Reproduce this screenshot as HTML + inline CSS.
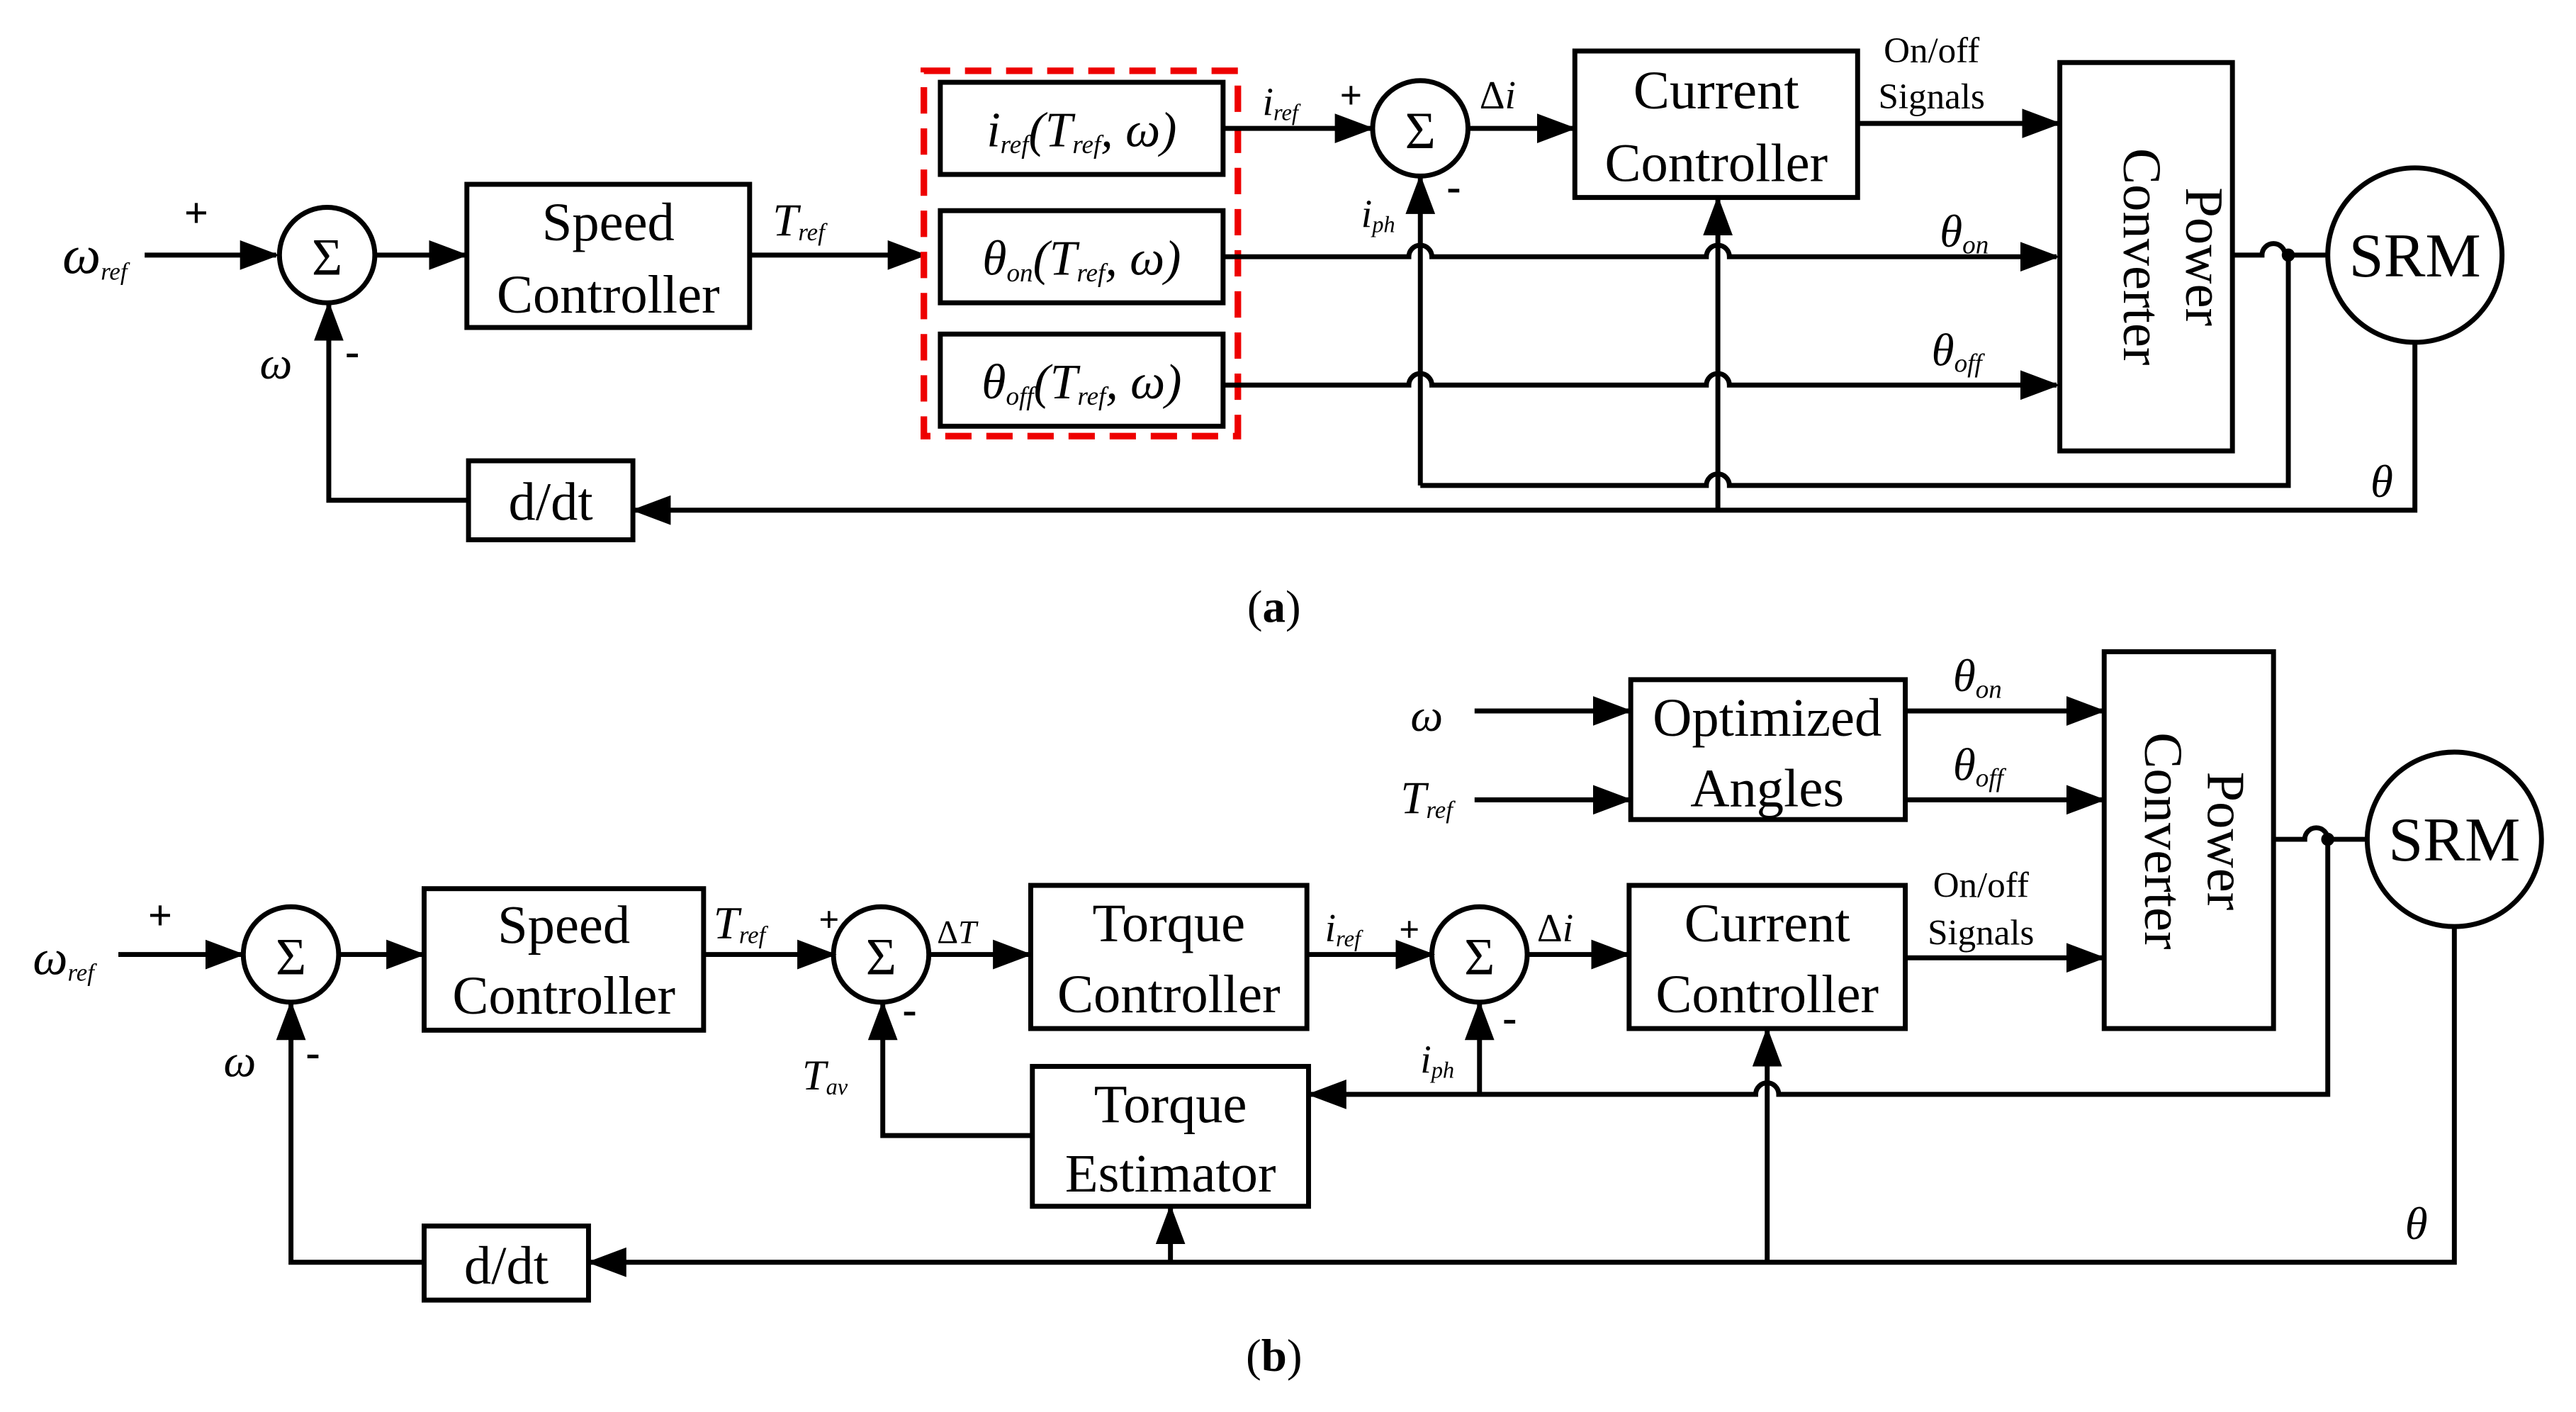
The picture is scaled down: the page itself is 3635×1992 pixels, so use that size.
<!DOCTYPE html>
<html><head><meta charset="utf-8"><style>
html,body{margin:0;padding:0;background:#fff}
svg{display:block}
text{font-family:"Liberation Serif",serif;fill:#000}
.b{font-size:33px}
.i{font-style:italic}
</style></head><body>
<svg width="3635" height="1992" viewBox="0 0 1567 858" preserveAspectRatio="none" xmlns="http://www.w3.org/2000/svg">
<defs>
<marker id="a" markerUnits="userSpaceOnUse" markerWidth="24" markerHeight="18" refX="22" refY="9" orient="auto">
<path d="M0,0 L24,9 L0,18 Z" fill="#000"/></marker>
</defs>
<g fill="none" stroke="#000" stroke-width="3">
<!-- (a) -->
<line x1="88" y1="155" x2="168" y2="155" marker-end="url(#a)"/>
<circle cx="199" cy="155" r="29"/>
<line x1="228" y1="155" x2="283" y2="155" marker-end="url(#a)"/>
<rect x="284" y="112" width="172" height="87"/>
<line x1="456" y1="155" x2="562" y2="155" marker-end="url(#a)"/>
<rect x="562" y="43" width="191" height="222" stroke="#e00" stroke-dasharray="16,9" stroke-width="4"/>
<rect x="572" y="50" width="172" height="56"/>
<rect x="572" y="128" width="172" height="56"/>
<rect x="572" y="203" width="172" height="56"/>
<line x1="744" y1="78" x2="834" y2="78" marker-end="url(#a)"/>
<circle cx="864" cy="78" r="29"/>
<line x1="893" y1="78" x2="957" y2="78" marker-end="url(#a)"/>
<rect x="958" y="31" width="172" height="89"/>
<line x1="1130" y1="75" x2="1252" y2="75" marker-end="url(#a)"/>
<rect x="1253" y="38" width="105" height="236"/>
<path d="M744,156 H857 a7,7 0 0 1 14,0 H1038 a7,7 0 0 1 14,0 H1251" marker-end="url(#a)"/>
<path d="M744,234 H857 a7,7 0 0 1 14,0 H1038 a7,7 0 0 1 14,0 H1251" marker-end="url(#a)"/>
<path d="M1358,155 H1376 a7,7 0 0 1 14,0 H1416"/>
<circle cx="1469" cy="155" r="53"/>
<line x1="864" y1="295" x2="864" y2="108" marker-end="url(#a)"/>
<path d="M864,295 H1038 a7,7 0 0 1 14,0 H1392 V155"/>
<line x1="1045" y1="310" x2="1045" y2="121" marker-end="url(#a)"/>
<path d="M1469,208 V310 H386" marker-end="url(#a)"/>
<rect x="285" y="280" width="100" height="48"/>
<path d="M285,304 H200 V185" marker-end="url(#a)"/>
<!-- (b) -->
<line x1="72" y1="580" x2="147" y2="580" marker-end="url(#a)"/>
<circle cx="177" cy="580" r="29"/>
<line x1="206" y1="580" x2="257" y2="580" marker-end="url(#a)"/>
<rect x="258" y="540" width="170" height="86"/>
<line x1="428" y1="580" x2="507" y2="580" marker-end="url(#a)"/>
<circle cx="536" cy="580" r="29"/>
<line x1="565" y1="580" x2="626" y2="580" marker-end="url(#a)"/>
<rect x="627" y="538" width="168" height="87"/>
<line x1="795" y1="580" x2="871" y2="580" marker-end="url(#a)"/>
<circle cx="900" cy="580" r="29"/>
<line x1="929" y1="580" x2="990" y2="580" marker-end="url(#a)"/>
<rect x="991" y="538" width="168" height="87"/>
<line x1="1159" y1="582" x2="1279" y2="582" marker-end="url(#a)"/>
<rect x="1280" y="396" width="103" height="229"/>
<rect x="992" y="413" width="167" height="85"/>
<line x1="897" y1="432" x2="991" y2="432" marker-end="url(#a)"/>
<line x1="897" y1="486" x2="991" y2="486" marker-end="url(#a)"/>
<line x1="1159" y1="432" x2="1279" y2="432" marker-end="url(#a)"/>
<line x1="1159" y1="486" x2="1279" y2="486" marker-end="url(#a)"/>
<path d="M1383,510 H1402 a7,7 0 0 1 14,0 H1440"/>
<circle cx="1493" cy="510" r="53"/>
<path d="M1416,510 V665 H1082 a7,7 0 0 0 -14,0 H797" marker-end="url(#a)"/>
<line x1="900" y1="665" x2="900" y2="610" marker-end="url(#a)"/>
<rect x="628" y="648" width="168" height="85"/>
<path d="M628,690 H537 V610" marker-end="url(#a)"/>
<path d="M1493,563 V767 H359" marker-end="url(#a)"/>
<line x1="1075" y1="767" x2="1075" y2="626" marker-end="url(#a)"/>
<line x1="712" y1="767" x2="712" y2="734" marker-end="url(#a)"/>
<rect x="258" y="745" width="100" height="45"/>
<path d="M258,767 H177 V610" marker-end="url(#a)"/>
</g>
<circle cx="1392" cy="155" r="4"/>
<circle cx="1416" cy="510" r="4"/>
<!-- text (a) -->
<text x="38" y="166" class="b i" font-size="30">ω<tspan font-size="15" dy="4">ref</tspan></text>
<text x="112" y="138" font-size="26" font-weight="bold">+</text>
<text x="199" y="167" text-anchor="middle" font-size="32">Σ</text>
<text x="864" y="90" text-anchor="middle" font-size="32">Σ</text>
<text x="177" y="592" text-anchor="middle" font-size="32">Σ</text>
<text x="536" y="592" text-anchor="middle" font-size="32">Σ</text>
<text x="900" y="592" text-anchor="middle" font-size="32">Σ</text>
<text x="158" y="230" class="i" font-size="28">ω</text>
<text x="210" y="222" font-size="26" font-weight="bold">-</text>
<text x="370" y="146" text-anchor="middle" class="b">Speed</text>
<text x="370" y="190" text-anchor="middle" class="b">Controller</text>
<text x="470" y="143" class="i" font-size="28">T<tspan font-size="15" dy="3">ref</tspan></text>
<text x="658" y="89" text-anchor="middle" class="i" font-size="30">i<tspan font-size="16" dy="4">ref</tspan><tspan dy="-4">(T</tspan><tspan font-size="16" dy="4">ref</tspan><tspan dy="-4">, ω)</tspan></text>
<text x="658" y="167" text-anchor="middle" class="i" font-size="30">θ<tspan font-size="16" dy="4">on</tspan><tspan dy="-4">(T</tspan><tspan font-size="16" dy="4">ref</tspan><tspan dy="-4">, ω)</tspan></text>
<text x="658" y="242" text-anchor="middle" class="i" font-size="30">θ<tspan font-size="16" dy="4">off</tspan><tspan dy="-4">(T</tspan><tspan font-size="16" dy="4">ref</tspan><tspan dy="-4">, ω)</tspan></text>
<text x="768" y="70" class="i" font-size="24">i<tspan font-size="14" dy="3">ref</tspan></text>
<text x="815" y="66" font-size="24" font-weight="bold">+</text>
<text x="900" y="66" font-size="24">Δ<tspan class="i">i</tspan></text>
<text x="828" y="138" class="i" font-size="24">i<tspan font-size="14" dy="3">ph</tspan></text>
<text x="880" y="122" font-size="26" font-weight="bold">-</text>
<text x="1044" y="66" text-anchor="middle" class="b">Current</text>
<text x="1044" y="110" text-anchor="middle" class="b">Controller</text>
<text x="1175" y="38" text-anchor="middle" font-size="22">On/off</text>
<text x="1175" y="66" text-anchor="middle" font-size="22">Signals</text>
<text x="1180" y="150" class="i" font-size="28">θ<tspan font-size="16" dy="4">on</tspan></text>
<text x="1175" y="222" class="i" font-size="28">θ<tspan font-size="16" dy="4">off</tspan></text>
<text transform="translate(1318,156) rotate(90)" text-anchor="middle" class="b"><tspan x="0" y="-12">Power</tspan><tspan x="0" y="26">Converter</tspan></text>
<text x="1469" y="168" text-anchor="middle" font-size="38">SRM</text>
<text x="1442" y="302" class="i" font-size="28">θ</text>
<text x="335" y="316" text-anchor="middle" class="b">d/dt</text>
<text x="775" y="378" text-anchor="middle" font-size="28">(<tspan font-weight="bold">a</tspan>)</text>
<!-- text (b) -->
<text x="20" y="592" class="i" font-size="30">ω<tspan font-size="15" dy="4">ref</tspan></text>
<text x="90" y="565" font-size="26" font-weight="bold">+</text>
<text x="136" y="654" class="i" font-size="28">ω</text>
<text x="186" y="648" font-size="26" font-weight="bold">-</text>
<text x="343" y="573" text-anchor="middle" class="b">Speed</text>
<text x="343" y="616" text-anchor="middle" class="b">Controller</text>
<text x="434" y="570" class="i" font-size="28">T<tspan font-size="15" dy="3">ref</tspan></text>
<text x="498" y="566" font-size="22" font-weight="bold">+</text>
<text x="549" y="622" font-size="26" font-weight="bold">-</text>
<text x="570" y="573" font-size="20">Δ<tspan class="i">T</tspan></text>
<text x="711" y="572" text-anchor="middle" class="b">Torque</text>
<text x="711" y="615" text-anchor="middle" class="b">Controller</text>
<text x="806" y="572" class="i" font-size="24">i<tspan font-size="14" dy="3">ref</tspan></text>
<text x="851" y="572" font-size="22" font-weight="bold">+</text>
<text x="935" y="572" font-size="24">Δ<tspan class="i">i</tspan></text>
<text x="914" y="627" font-size="26" font-weight="bold">-</text>
<text x="864" y="652" class="i" font-size="24">i<tspan font-size="14" dy="3">ph</tspan></text>
<text x="1075" y="572" text-anchor="middle" class="b">Current</text>
<text x="1075" y="615" text-anchor="middle" class="b">Controller</text>
<text x="1205" y="545" text-anchor="middle" font-size="22">On/off</text>
<text x="1205" y="574" text-anchor="middle" font-size="22">Signals</text>
<text x="1075" y="447" text-anchor="middle" class="b">Optimized</text>
<text x="1075" y="490" text-anchor="middle" class="b">Angles</text>
<text x="858" y="444" class="i" font-size="28">ω</text>
<text x="852" y="494" class="i" font-size="28">T<tspan font-size="15" dy="3">ref</tspan></text>
<text x="1188" y="420" class="i" font-size="28">θ<tspan font-size="16" dy="4">on</tspan></text>
<text x="1188" y="474" class="i" font-size="28">θ<tspan font-size="16" dy="4">off</tspan></text>
<text transform="translate(1331,511) rotate(90)" text-anchor="middle" class="b"><tspan x="0" y="-12">Power</tspan><tspan x="0" y="26">Converter</tspan></text>
<text x="1493" y="523" text-anchor="middle" font-size="38">SRM</text>
<text x="488" y="662" class="i" font-size="26">T<tspan font-size="14" dy="3">av</tspan></text>
<text x="712" y="682" text-anchor="middle" class="b">Torque</text>
<text x="712" y="724" text-anchor="middle" class="b">Estimator</text>
<text x="1463" y="753" class="i" font-size="28">θ</text>
<text x="308" y="780" text-anchor="middle" class="b">d/dt</text>
<text x="775" y="833" text-anchor="middle" font-size="28">(<tspan font-weight="bold">b</tspan>)</text>
</svg>
</body></html>
